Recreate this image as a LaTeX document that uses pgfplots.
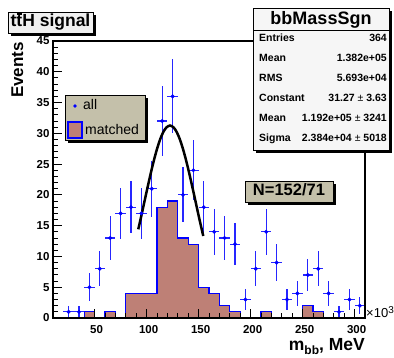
\documentclass[border=0pt]{standalone}
\usepackage{fontspec}
\setmainfont{Liberation Sans}
\usepackage{pgfplots}
\pgfplotsset{compat=1.18}
\definecolor{matchedc}{RGB}{190,128,118}
\definecolor{khaki}{RGB}{196,192,170}
\definecolor{statbg}{RGB}{246,246,246}
\definecolor{titlebg}{RGB}{240,240,240}
\newcommand{\fs}[1]{\fontsize{#1}{#1}\selectfont}
\begin{document}
\begin{tikzpicture}[x=1pt,y=1pt]
\useasboundingbox (0,0) rectangle (394,358);
\fill[white] (0,0) rectangle (394,358);
\begin{axis}[at={(53pt,40pt)}, anchor=south west, width=312pt, height=277pt, scale only axis,
  xmin=10, xmax=310, ymin=0, ymax=45,
  xtick={50,100,...,300}, ytick={0,5,...,45},
  minor x tick num=4, minor y tick num=4,
  tick align=inside, tick pos=left,
  major tick length=9pt, minor tick length=5pt,
  axis line style={line width=1.2pt},
  tick style={line width=0.9pt, black},
  tick label style={font=\bfseries\fs{11.5}},
  xticklabel style={yshift=-4pt, xshift=2pt},
  /pgf/number format/assume math mode=true,
  axis on top]
\addplot[const plot mark left, fill=matchedc, draw=blue, line width=1.2pt] coordinates {
(10,0) (20,0) (30,0) (40,1) (50,0) (60,1) (70,0) (80,4) (90,4) (100,4)
(110,18) (120,19) (130,13) (140,12) (150,5) (160,4) (170,2) (180,1) (190,0) (200,0)
(210,1) (220,0) (230,0) (240,0) (250,2) (260,1) (270,0) (280,0) (290,0) (300,0) (310,0)
} \closedcycle;
\addplot[blue, mark=*, mark size=1.8pt, only marks,
  error bars/.cd, x dir=both, x fixed=5, y dir=both, y explicit, error mark=none,
  error bar style={line width=1.2pt, blue!85!white}]
  table[x=x, y=y, y error=ey] {
x y ey
25 1 1
35 1 1
45 5 2.236
55 8 2.828
65 13 3.606
75 17 4.123
85 18 4.243
95 17 4.123
105 21 4.583
115 32 5.657
125 36 6
135 20 4.472
145 24 4.899
155 18 4.243
165 14 3.742
175 13 3.606
185 12 3.464
195 3 1.732
205 8 2.828
215 14 3.742
225 9 3
235 3 1.732
245 4 2
255 7 2.646
265 8 2.828
275 4 2
285 1 1
295 3 1.732
305 2 1.414
};
\addplot[black, line width=2.5pt, smooth] coordinates {
(92,14.41) (95,16.65) (98,18.97) (101,21.28) (104,23.51) (107,25.60) (110,27.45)
(113,29.01) (116,30.19) (119,30.95) (122.5,31.27) (126,30.95) (129,30.19) (132,29.01)
(135,27.45) (138,25.60) (141,23.51) (144,21.28) (147,18.97) (150,16.65) (153,14.41) (154.5,13.32)
};
\end{axis}
% axis labels
\node[rotate=90, anchor=base east, font=\bfseries\fs{17}, inner sep=0pt] at (23,316) {Events};
\node[anchor=base east, font=\bfseries\fs{17.5}, inner sep=0pt] at (365,7) {m\raisebox{-4pt}{\fs{12}bb}, MeV};
\node[anchor=base west, font=\fs{13}, inner sep=0pt] at (366,40) {×10\raisebox{4pt}{\fs{10}3}};
% title box
\fill[black] (11,322) rectangle (96,343);
\filldraw[fill=titlebg, draw=black, line width=0.8pt] (8,325) rectangle (93,346);
\node[anchor=base, font=\bfseries\fs{17.5}, inner sep=0pt] at (50.5,331) {t\makebox[0pt][l]{\hspace{0.3pt}\rule[12.3pt]{5.4pt}{1.3pt}}tH signal};
% stats box
\fill[black] (256,205) rectangle (392,347);
\filldraw[fill=statbg, draw=black, line width=0.8pt] (253,208) rectangle (389,350);
\draw[line width=0.8pt] (253,328) -- (389,328);
\node[anchor=base, font=\bfseries\fs{18}, inner sep=0pt] at (321,333) {bbMassSgn};
\begin{scope}[every node/.style={font=\bfseries\fs{10.5}, inner sep=0pt}]
\node[anchor=base west] at (259,316) {Entries};
\node[anchor=base east] at (387,316) {364};
\node[anchor=base west] at (259,296) {Mean};
\node[anchor=base east] at (387,296) {1.382e+05};
\node[anchor=base west] at (259,276.2) {RMS};
\node[anchor=base east] at (387,276.2) {5.693e+04};
\node[anchor=base west] at (259,256.3) {Constant};
\node[anchor=base east] at (387,256.3) {31.27 {\mdseries ±} 3.63};
\node[anchor=base west] at (259,236.4) {Mean};
\node[anchor=base east] at (387,236.4) {1.192e+05 {\mdseries ±} 3241};
\node[anchor=base west] at (259,216.5) {Sigma};
\node[anchor=base east] at (387,216.5) {2.384e+04 {\mdseries ±} 5018};
\end{scope}
% legend
\fill[black] (68,215) rectangle (148,260);
\filldraw[fill=khaki, draw=black, line width=0.8pt] (65,218) rectangle (145,263);
\fill[blue] (75,252) circle (1.8);
\node[anchor=base west, font=\fs{14}, inner sep=0pt] at (83,248) {all};
\filldraw[fill=matchedc, draw=blue, line width=1.2pt] (68,220) rectangle (82,236);
\node[anchor=base west, font=\fs{14}, inner sep=0pt] at (85,223) {matched};
% N box
\fill[black] (248,153) rectangle (336,174);
\filldraw[fill=khaki, draw=black, line width=0.8pt] (245,156) rectangle (333,177);
\node[anchor=base, font=\bfseries\fs{16.5}, inner sep=0pt] at (289,162) {N=152/71};
\end{tikzpicture}
\end{document}
